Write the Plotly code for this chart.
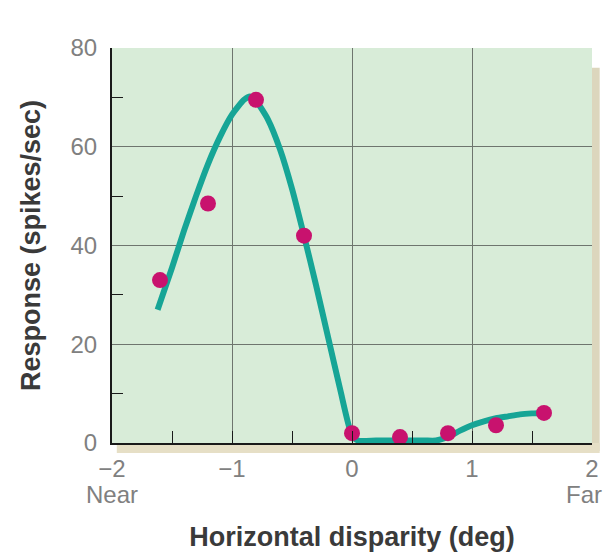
import plotly.graph_objects as go

# Measured responses
disparity = [-1.6, -1.2, -0.8, -0.4, 0.0, 0.4, 0.8, 1.2, 1.6]
response = [33, 48.5, 69.5, 42, 2, 1.2, 2, 3.6, 6.1]

# Fitted tuning curve
fit_x = [-1.62, -1.5, -1.4, -1.3, -1.2, -1.1, -1.0, -0.9, -0.85, -0.8, -0.7, -0.6,
         -0.5, -0.4, -0.3, -0.2, -0.1, 0.0, 0.05, 0.2, 0.4, 0.6, 0.7, 0.8,
         0.9, 1.0, 1.1, 1.2, 1.3, 1.4, 1.5, 1.6]
fit_y = [27, 35.5, 43, 50, 56.5, 62, 66.5, 69.5, 70.2, 69.3, 65.5, 59.5,
         51.5, 42, 32, 21.5, 11, 1.5, 0.5, 0.5, 0.5, 0.5, 0.5, 1.2,
         2.5, 3.6, 4.4, 5.0, 5.4, 5.8, 6.0, 6.1]

x_ticks = [-2, -1, 0, 1, 2]
x_tick_text = ["\u22122", "\u22121", "0", "1", "2"]
y_ticks = [0, 20, 40, 60, 80]
end_labels = ["Near", "Far"]
end_positions = [-2, 2]
end_anchors = ["center", "right"]
end_shifts = [0, 12]

fig = go.Figure()
fig.add_trace(go.Scatter(x=fit_x, y=fit_y, mode="lines",
                         line=dict(color="#16a596", width=6, shape="spline", smoothing=0.6),
                         hoverinfo="skip"))
fig.add_trace(go.Scatter(x=disparity, y=response, mode="markers",
                         marker=dict(color="#c8126e", size=16)))

# soft shadow at right and bottom of the panel
fig.add_shape(type="rect", xref="paper", yref="paper", x0=1.0, x1=1.016, y0=-0.02, y1=0.95,
              fillcolor="#dcd6bd", line_width=0, layer="below")
fig.add_shape(type="rect", xref="paper", yref="paper", x0=0.01, x1=1.016, y0=-0.025, y1=0.0,
              fillcolor="#e6dfc6", line_width=0, layer="below")

font_fam = "Liberation Sans, Arial, sans-serif"
tick_color = "#808080"
for lbl, pos, anc, sh in zip(end_labels, end_positions, end_anchors, end_shifts):
    fig.add_annotation(x=pos, y=-0.13, xref="x", yref="paper", text=lbl,
                       showarrow=False, xanchor=anc, yanchor="middle", xshift=sh,
                       font=dict(family=font_fam, size=24, color=tick_color))

# page body has an 8px margin, so the figure is sized to fill the window
fig.update_layout(
    width=604, height=545,
    margin=dict(l=104, r=20, t=40, b=110),
    paper_bgcolor="white",
    plot_bgcolor="#d8ecd8",
    showlegend=False,
    font=dict(family=font_fam, color=tick_color, size=24),
)
fig.update_xaxes(
    range=[-2, 2], tickvals=x_ticks, ticktext=x_tick_text, automargin=False,
    showgrid=True, gridcolor="#6e756e", gridwidth=1,
    zeroline=False,
    showline=True, linecolor="#1a1a1a", linewidth=2,
    ticks="inside", ticklen=12, tickcolor="#1a1a1a", tickwidth=1,
    minor=dict(dtick=1, tick0=-1.5, ticks="inside", ticklen=12, tickcolor="#1a1a1a", tickwidth=1, showgrid=False),
    tickfont=dict(size=24, color=tick_color),
    ticklabelstandoff=3,
    title=dict(text="<b>Horizontal disparity (deg)</b>", font=dict(size=27, color="#3a3a3a"), standoff=46),
)
fig.update_yaxes(
    range=[0, 80], tickvals=y_ticks, automargin=False,
    showgrid=True, gridcolor="#6e756e", gridwidth=1,
    zeroline=False,
    showline=True, linecolor="#1a1a1a", linewidth=2,
    ticks="",
    minor=dict(dtick=20, tick0=10, ticks="inside", ticklen=11, tickcolor="#1a1a1a", tickwidth=1, showgrid=False),
    tickfont=dict(size=24, color=tick_color),
    ticklabelstandoff=8,
    title=dict(text="<b>Response (spikes/sec)</b>", font=dict(size=27, color="#3a3a3a"), standoff=22),
)

fig.write_html("out.html")
